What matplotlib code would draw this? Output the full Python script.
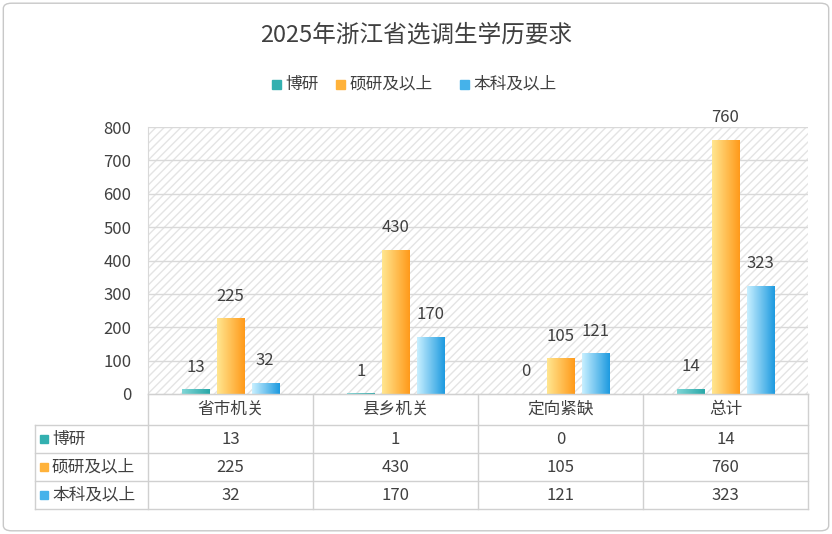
import matplotlib
matplotlib.use("Agg")
import matplotlib.pyplot as plt
import numpy as np
from matplotlib.patches import Rectangle, FancyBboxPatch
from matplotlib.colors import LinearSegmentedColormap

plt.rcParams['font.family'] = ['Noto Sans CJK JP', 'Noto Sans CJK SC', 'Noto Sans CJK TC', 'DejaVu Sans']

categories = ["省市机关", "县乡机关", "定向紧缺", "总计"]
series_names = ["博研", "硕研及以上", "本科及以上"]
boyan = [13, 1, 0, 14]
shuoyan = [225, 430, 105, 760]
benke = [32, 170, 121, 323]
yticks = [0, 100, 200, 300, 400, 500, 600, 700, 800]

W, H = 832, 534
fig = plt.figure(figsize=(W/100, H/100), dpi=100)
fig.patches.append(FancyBboxPatch((0.004, 0.006), 0.992, 0.988, boxstyle="round,pad=0,rounding_size=0.01",
                                  transform=fig.transFigure, fill=False, ec="#c8c8c8", lw=1))

L, R, T, B = 148, 808, 127, 394
ax = fig.add_axes([L/W, 1-B/H, (R-L)/W, (B-T)/H])
ax.set_xlim(0, 4)
ax.set_ylim(0, 800)
ax.add_patch(Rectangle((0, 0), 4, 800, fill=False, hatch='////', ec='#e4e4e4', lw=0, zorder=0))
for y in yticks[1:]:
    ax.axhline(y, color='#d9d9d9', lw=1, zorder=1)
for s in ['top', 'right']:
    ax.spines[s].set_visible(False)
ax.spines['left'].set_color('#d9d9d9')
ax.spines['bottom'].set_color('#bfbfbf')
ax.set_xticks([])
ax.set_yticks(yticks)
ax.tick_params(axis='y', length=0, labelsize=12, colors='#404040', pad=12)

cmaps = [LinearSegmentedColormap.from_list("a", ["#7fd6d6", "#2aa8a8"]),
         LinearSegmentedColormap.from_list("b", ["#ffe690", "#ff9a1a"]),
         LinearSegmentedColormap.from_list("c", ["#c8efff", "#1e9be0"])]
solid = ["#33b0b0", "#ffb23a", "#45b2ea"]
grad = np.linspace(0, 1, 64).reshape(1, -1)
bw = 0.165
offs = [-0.21, 0, 0.21]
for si, vals in enumerate([boyan, shuoyan, benke]):
    for ci, v in enumerate(vals):
        x0 = ci + 0.5 + offs[si] - bw/2
        if v > 0:
            ax.imshow(grad, cmap=cmaps[si], aspect='auto', extent=(x0, x0+bw, 0, v), zorder=3)
        ax.text(x0+bw/2, v+42, str(v), ha='center', va='bottom', fontsize=12, color='#404040', zorder=4)
ax.set_xlim(0, 4); ax.set_ylim(0, 800)

fig.text(0.5, 1-35/H, "2025年浙江省选调生学历要求", ha='center', va='center', fontsize=17, color='#404040')
lx = [272, 336, 460]
for i, n in enumerate(series_names):
    fig.patches.append(Rectangle(((lx[i])/W, 1-89/H), 9/W, 9/H, transform=fig.transFigure, color=solid[i]))
    fig.text((lx[i]+13)/W, 1-84/H, n, va='center', fontsize=12, color='#404040')

tax = fig.add_axes([0, 0, 1, 1]); tax.set_xlim(0, W); tax.set_ylim(H, 0); tax.axis('off')
rows = [394, 425, 453, 481, 509]
lc = '#d0d0d0'
for i, y in enumerate(rows):
    tax.plot([35 if i > 0 else L, R], [y, y], color=lc, lw=1)
tax.plot([35, 35], [425, 509], color=lc, lw=1)
for k in range(5):
    x = L + 165*k
    tax.plot([x, x], [394, 509], color=lc, lw=1)
for k, c in enumerate(categories):
    tax.text(L+165*(k+0.5), 409.5, c, ha='center', va='center', fontsize=12, color='#404040')
for r, (n, vals) in enumerate(zip(series_names, [boyan, shuoyan, benke])):
    yc = (rows[r+1]+rows[r+2])/2
    tax.add_patch(Rectangle((40, yc-4), 8, 8, color=solid[r]))
    tax.text(52, yc, n, va='center', fontsize=12, color='#404040')
    for k, v in enumerate(vals):
        tax.text(L+165*(k+0.5), yc, str(v), ha='center', va='center', fontsize=12, color='#404040')

fig.savefig("out.png", dpi=100)
